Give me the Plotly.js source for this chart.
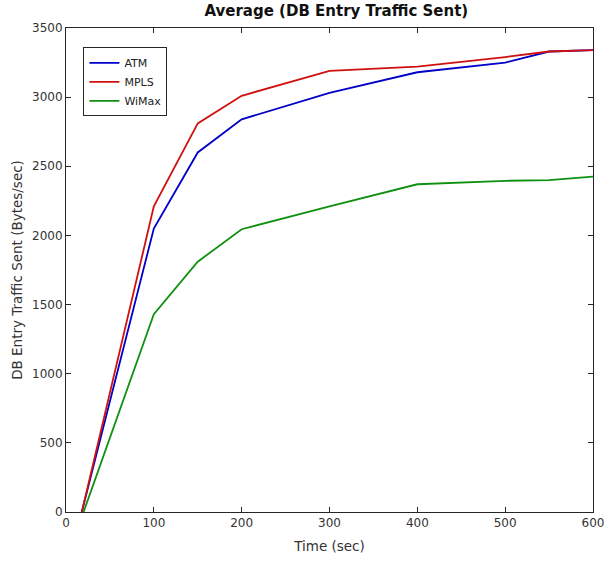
<!DOCTYPE html>
<html><head><meta charset="utf-8">
<script src="https://cdn.plot.ly/plotly-3.0.1.min.js"></script>
<style>body{margin:0;background:#fff}#chart{width:606px;height:563px}</style>
</head><body><div id="chart"></div>
<script>
const time = [18, 100, 150, 200, 300, 400, 500, 550, 600];
const atm = [0, 2050, 2600, 2840, 3030, 3180, 3250, 3330, 3340];
const mpls = [0, 2210, 2810, 3010, 3190, 3220, 3290, 3330, 3340];
const wimaxTime = [20, 100, 150, 200, 300, 400, 500, 550, 600];
const wimax = [0, 1430, 1810, 2045, 2210, 2370, 2395, 2400, 2425];

const font = {family: 'DejaVu Sans, sans-serif', color: '#262626'};
const traces = [
  {x: time, y: atm, name: 'ATM', mode: 'lines', line: {color: '#0000c8', width: 1.8}},
  {x: time, y: mpls, name: 'MPLS', mode: 'lines', line: {color: '#d01010', width: 1.8}},
  {x: wimaxTime, y: wimax, name: 'WiMax', mode: 'lines', line: {color: '#109010', width: 1.8}}
];
const axisCommon = {
  showgrid: false, zeroline: false, showline: true, linecolor: '#262626', linewidth: 1,
  mirror: 'ticks', ticks: 'inside', ticklen: 5, tickcolor: '#262626',
  tickfont: {family: font.family, size: 12, color: '#333'}
};
const layout = {
  width: 606, height: 563,
  margin: {l: 66, r: 13, t: 28, b: 51},
  paper_bgcolor: '#fff', plot_bgcolor: '#fff',
  title: {text: '<b>Average (DB Entry Traffic Sent)</b>', font: {family: font.family, size: 15, color: '#111'}, x: 0.555, xanchor: 'center', y: 0.99, yanchor: 'top'},
  xaxis: Object.assign({}, axisCommon, {range: [0, 600], tickvals: [0,100,200,300,400,500,600],
    title: {text: 'Time (sec)', font: {family: font.family, size: 13.5, color: '#333'}, standoff: 12}}),
  yaxis: Object.assign({}, axisCommon, {range: [0, 3500], tickvals: [0,500,1000,1500,2000,2500,3000,3500],
    title: {text: 'DB Entry Traffic Sent (Bytes/sec)', font: {family: font.family, size: 13.5, color: '#333'}, standoff: 6}}),
  showlegend: true,
  legend: {x: 0.033, y: 0.96, xanchor: 'left', yanchor: 'top', bgcolor: '#fff', bordercolor: '#262626', borderwidth: 1,
    font: {family: font.family, size: 11, color: '#222'}, tracegroupgap: 0, itemwidth: 30}
};
Plotly.newPlot('chart', traces, layout, {displayModeBar: false, staticPlot: true});
</script></body></html>
